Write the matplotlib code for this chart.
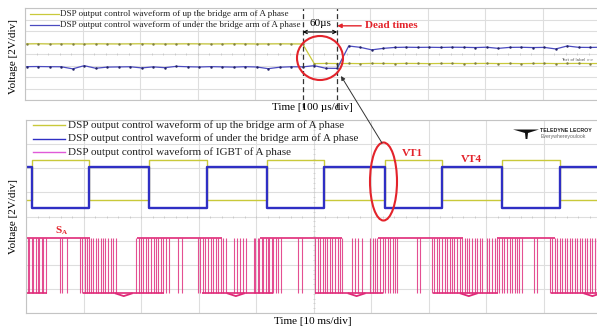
import numpy as np
import matplotlib
matplotlib.use("Agg")
import matplotlib.pyplot as plt
from matplotlib.patches import Ellipse, Polygon

SERIF = ["Liberation Serif", "DejaVu Serif"]
RED = "#e3232b"
YELLOW = "#c9c93a"
BLUE = "#2f2fc4"
BLUE_TOP = "#4a4ac0"
PINK = "#e0307f"
GRID = "#dedede"

# ---------------- upper record: 100 us/div, one sample every 20 us ----------------
t_top_us = np.arange(3, 1004, 20)
up_arm_top = [9.75, 9.78, 9.74, 9.76, 9.75, 9.73, 9.77, 9.75, 9.74, 9.76, 9.78, 9.75,
              9.74, 9.75, 9.77, 9.76, 9.74, 9.75, 9.78, 9.76, 9.74, 9.75, 9.77, 9.75,
              9.74,
              6.33, 6.36, 6.34, 6.35, 6.33, 6.36, 6.35, 6.34, 6.36, 6.35, 6.33, 6.35,
              6.36, 6.34, 6.35, 6.36, 6.34, 6.35, 6.33, 6.35, 6.36, 6.34, 6.35, 6.36,
              6.34, 6.35]
down_arm_top = [5.80, 5.82, 5.79, 5.78, 5.42, 5.97, 5.52, 5.72, 5.75, 5.78, 5.58, 5.76,
                5.62, 5.85, 5.78, 5.74, 5.80, 5.76, 5.72, 5.79, 5.74, 5.45, 5.70, 5.78,
                5.76, 5.97, 5.52, 5.50,
                9.39, 9.16, 8.72, 8.98, 9.14, 9.18, 9.15, 9.17, 9.14, 9.18, 9.16, 9.12,
                9.18, 8.98, 9.15, 9.17, 9.12, 9.15, 8.88, 9.39, 9.16, 9.14, 9.18]
dead_start_us = 483
dead_end_us = 543

# ---------------- lower record: 10 ms/div ----------------
edges_ms = [1.0, 11.0, 21.4, 31.5, 41.9, 51.8, 62.4, 72.3, 82.8, 92.9]
up_levels = (9.33, 12.69)      # (low, high) of the upper-arm gate signal
down_levels = (8.68, 12.08)    # (low, high) of the lower-arm gate signal
igbt_levels = (1.62, 6.22)     # (low, high) of the IGBT gate signal

igbt_pulses_ms = [
    0.3, 0.6, 1.0, 1.3, 1.7, 2.0, 2.3, 2.7, 3.0, 3.5,
    5.9, 6.3, 7.1,
    9.4, 9.8, 10.3, 10.6, 11.0, 11.3, 11.7, 12.2, 12.5, 13.0, 13.4, 13.8, 14.3, 14.7, 15.1, 15.7,
    19.1, 19.6, 20.0, 20.4, 20.9, 21.3, 21.7, 22.2, 22.6, 23.0, 23.5, 23.9, 24.3, 24.8,
    26.4, 27.1,
    29.9, 30.3, 30.8, 31.2, 31.7, 32.1, 32.5, 33.0, 33.4, 33.9, 34.3, 34.7,
    36.2, 36.7, 37.2, 37.7, 38.3,
    39.6, 39.9, 40.3, 40.6, 41.0, 41.3, 41.7, 42.0, 42.3, 42.7, 43.0, 43.4, 43.8, 44.3,
    47.3, 48.0,
    50.3, 50.7, 51.1, 51.6, 52.0, 52.4, 52.9, 53.3, 53.7, 54.2, 54.6, 55.0,
    56.7, 57.2, 57.7, 58.4,
    59.8, 60.3, 60.7, 61.1, 61.6, 62.0, 62.4, 62.9, 63.3, 63.8, 64.2, 64.6,
    68.0, 68.5,
    70.6, 71.0, 71.5, 71.9, 72.3, 72.8, 73.2, 73.7, 74.1, 74.5, 75.0, 75.4, 75.8, 76.3,
    76.7, 77.1, 77.6, 78.0, 78.4, 78.9, 79.3,
    80.2, 80.6, 81.0, 81.5, 81.9, 82.3, 82.8, 83.2, 83.7, 84.1, 84.5, 85.0, 85.4, 85.8, 86.3,
    88.3, 88.9,
    91.1, 91.5, 92.0, 92.4, 92.8, 93.3, 93.7, 94.1, 94.6, 95.0, 95.4, 95.9, 96.3, 96.7,
    97.2, 97.6, 98.0, 98.5, 98.9, 99.3,
]
igbt_high_spans = [(0.0, 11.1), (19.3, 34.1), (40.7, 55.0), (61.2, 76.0), (81.9, 92.0)]
igbt_low_spans = [(0.0, 3.7), (9.9, 24.0), (30.6, 43.0), (50.3, 62.0), (70.8, 82.0), (91.3, 100.0)]
igbt_low_dips_ms = [17.0, 36.5, 57.5, 77.0, 98.5]

legend_labels = [
    "DSP output control waveform of up the bridge arm of A phase",
    "DSP output control waveform of under the bridge arm of A phase",
    "DSP output control waveform of IGBT of A phase",
]

W, H = 597, 333
fig = plt.figure(figsize=(W / 100, H / 100), dpi=100)


def px_axes(x0, y0, x1, y1):
    return fig.add_axes([x0 / W, 1 - y1 / H, (x1 - x0) / W, (y1 - y0) / H])


def scope_grid(ax, xmax, ncols, tick_step_x, tick_step_y):
    ax.set_xlim(0, xmax)
    ax.set_ylim(0, 16)
    ax.set_xticks(np.linspace(0, xmax, ncols + 1))
    ax.set_yticks(np.arange(0, 17, 2))
    ax.grid(True, color=GRID, lw=0.8)
    ax.tick_params(length=0, labelbottom=False, labelleft=False)
    for s in ax.spines.values():
        s.set_color("#c4c4c4")
        s.set_linewidth(0.8)
    # crosshair tick marks of the scope graticule
    xs = np.arange(0, xmax + 1e-9, tick_step_x)
    ax.plot(xs, np.full(len(xs), 8.0), ls="none", marker="|", ms=2.0, mew=0.5, color="#c0c0c0")
    if tick_step_y:
        ys = np.arange(0, 16.01, tick_step_y)
        ax.plot(np.full(len(ys), xmax / 2), ys, ls="none", marker="_", ms=2.0, mew=0.5,
                color="#c8c8c8")


# ---------------- upper panel ----------------
ax1 = px_axes(25, 8, 600, 100)
scope_grid(ax1, 1000, 10, 20, None)
ax1.plot(t_top_us, up_arm_top, color=YELLOW, lw=0.9, marker=".", ms=1.5, mfc="#808040", mec="#808040")
ax1.plot(t_top_us, down_arm_top, color=BLUE_TOP, lw=0.9, marker=".", ms=1.5, mfc="#222266", mec="#222266")
for tx in (dead_start_us, dead_end_us):
    ax1.axvline(tx, ymin=-0.09, ymax=1.0, color="#333333", lw=0.9, ls=(0, (4, 2.5)), clip_on=False)
ax1.annotate("", xy=(dead_start_us, 11.83), xytext=(dead_end_us, 11.83),
             arrowprops=dict(arrowstyle="<->", lw=0.8, color="black", shrinkA=0, shrinkB=0,
                             mutation_scale=6))
ax1.text((dead_start_us + dead_end_us) / 2, 13.3, "60µs", ha="center", va="center",
         family=SERIF, fontsize=8)
ax1.annotate("Dead times", xy=(dead_end_us, 12.9), xytext=(592, 12.9),
             ha="left", va="center", color=RED, family=SERIF, fontsize=8, fontweight="bold",
             arrowprops=dict(arrowstyle="-|>", lw=1.0, color=RED, shrinkA=1, shrinkB=0,
                             mutation_scale=6))
ax1.text(932, 6.62, "Text of label >>", fontsize=2.9, color="#555555", ha="left", va="bottom")

# ---------------- lower panel ----------------
ax2 = px_axes(26, 120, 601, 313)
scope_grid(ax2, 100, 10, 2, 0.4)


def square(levels, start_low):
    t = [0.0] + edges_ms + [100.0]
    lv = []
    high = not start_low
    for _ in range(len(edges_ms) + 1):
        lv.append(levels[1] if high else levels[0])
        high = not high
    lv.append(lv[-1])
    return t, lv


tu, lu = square(up_levels, True)
td, ld = square(down_levels, False)
ax2.step(tu, lu, where="post", color=YELLOW, lw=1.0)
ax2.step(td, ld, where="post", color=BLUE, lw=1.7)

lo, hi = igbt_levels
ax2.vlines(igbt_pulses_ms, lo, hi, color=PINK, lw=0.8, alpha=0.85)
ax2.hlines([hi] * len(igbt_high_spans), [a for a, b in igbt_high_spans],
           [b for a, b in igbt_high_spans], color="#df2a78", lw=1.2)
ax2.hlines([lo] * len(igbt_low_spans), [a for a, b in igbt_low_spans],
           [b for a, b in igbt_low_spans], color="#df2a78", lw=1.2)
for d in igbt_low_dips_ms:
    ax2.plot([d - 1.4, d, d + 1.4], [lo, lo - 0.22, lo], color="#df2a78", lw=1.3)

# ---------------- overlay: legends, labels and annotations ----------------
ov = fig.add_axes([0, 0, 1, 1], zorder=10)
ov.set_xlim(0, W)
ov.set_ylim(H, 0)
ov.axis("off")
ov.patch.set_alpha(0)

for y, col, lab in zip((14, 25), (YELLOW, BLUE_TOP), legend_labels[:2]):
    ov.plot([30, 59], [y, y], color=col, lw=0.9)
    ov.text(60, y, lab, family=SERIF, fontsize=6.6, va="center", ha="left", color="#222222")

for y, col, lab in zip((125, 138.5, 152), (YELLOW, BLUE, "#e05ad8"), legend_labels):
    ov.plot([33, 65], [y, y], color=col, lw=1.0)
    ov.text(68, y, lab, family=SERIF, fontsize=8, va="center", ha="left", color="#222222")

ov.text(312, 107.5, "Time [100 µs/div]", family=SERIF, fontsize=8, ha="center", va="center")
ov.text(313, 322, "Time [10 ms/div]", family=SERIF, fontsize=8, ha="center", va="center")
ov.text(14, 56, "Voltage [2V/div]", family=SERIF, fontsize=8, ha="center", va="center", rotation=90)
ov.text(14, 217, "Voltage [2V/div]", family=SERIF, fontsize=8, ha="center", va="center", rotation=90)

ov.text(412, 153, "VT1", family=SERIF, fontsize=8, fontweight="bold", color=RED, ha="center", va="center")
ov.text(471, 160, "VT4", family=SERIF, fontsize=8, fontweight="bold", color=RED, ha="center", va="center")
ov.text(55, 230.5, "S", family=SERIF, fontsize=8, fontweight="bold", color=RED, ha="left", va="center")
ov.text(61.5, 233, "A", family=SERIF, fontsize=5, fontweight="bold", color=RED, ha="left", va="center")

ov.add_patch(Ellipse((320, 58), 46, 44, fill=False, ec=RED, lw=1.5))
ov.add_patch(Ellipse((383.5, 181.5), 27, 78, fill=False, ec=RED, lw=1.5))
ov.annotate("", xy=(341, 76), xytext=(382, 143),
            arrowprops=dict(arrowstyle="-|>", lw=0.7, color="#333333", shrinkA=0, shrinkB=0,
                            mutation_scale=6))

# scope vendor mark
ov.add_patch(Polygon([(513, 129.5), (539, 129.5), (528, 133), (527.4, 139),
                      (525.6, 139), (525, 133)], closed=True, fc="#111111", ec="none"))
ov.text(540.5, 130.5, "TELEDYNE LECROY", family=["Liberation Sans", "DejaVu Sans"],
        fontsize=3.8, fontweight="bold", color="#222222", ha="left", va="center")
ov.text(540.5, 136.5, "Everywhereyoulook", family=["Liberation Sans", "DejaVu Sans"],
        fontsize=3.7, color="#666666", ha="left", va="center")

fig.savefig("out.png", dpi=100)
